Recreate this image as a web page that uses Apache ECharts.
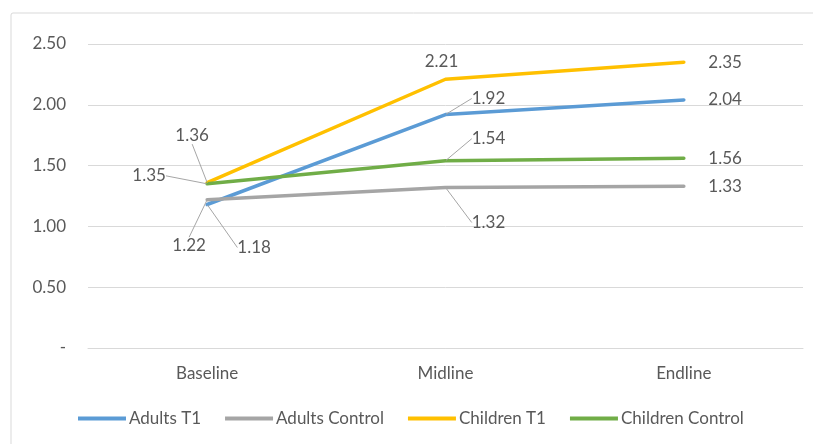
<!DOCTYPE html>
<html>
<head>
<meta charset="utf-8">
<script src="https://cdn.jsdelivr.net/npm/echarts@6/dist/echarts.min.js"></script>
<style>
  html, body { margin: 0; padding: 0; background: #fff; }
  #chart { width: 813px; height: 444px; }
</style>
</head>
<body>
<div id="chart"></div>
<script>
// Survey rounds and mean scores per group
const categories = ['Baseline', 'Midline', 'Endline'];
const adultsT1 = [1.18, 1.92, 2.04];
const adultsControl = [1.22, 1.32, 1.33];
const childrenT1 = [1.36, 2.21, 2.35];
const childrenControl = [1.35, 1.54, 1.56];
const yTicks = [0, 0.5, 1, 1.5, 2, 2.5];

// Label offsets (pixels from the point); null = plain label to the right
const labelOffsets = [
  [[47, 43], [43, -16], null],
  [[-18, 46], [43, 35], null],
  [[-15, -47], [-4, -18], null],
  [[-58, -8], [43, -22], null]
];
// Whether each moved label gets a leader line
const leaderLines = [
  [true, true, false],
  [true, true, false],
  [true, false, false],
  [true, true, false]
];

const FONT = 'Lato';
const TEXT = '#595959';

function makeSeries(name, values, color, idx) {
  return {
    name: name,
    type: 'line',
    data: values.map(function (v, i) {
      const item = { value: v };
      if (labelOffsets[idx][i] === null) {
        item.label = { position: 'right', distance: 24 };
      }
      if (!leaderLines[idx][i]) {
        item.labelLine = { show: false };
      }
      return item;
    }),
    symbol: 'circle',
    symbolSize: 1,
    showSymbol: true,
    lineStyle: { color: color, width: 3.5, cap: 'round', join: 'round' },
    itemStyle: { color: color },
    label: {
      show: true,
      position: 'inside',
      formatter: function (p) { return p.value.toFixed(2); },
      color: TEXT,
      fontFamily: FONT,
      fontSize: 17
    },
    labelLine: {
      show: true,
      lineStyle: { color: '#a6a6a6', width: 1 }
    },
    labelLayout: function (p) {
      const off = labelOffsets[idx][p.dataIndex];
      if (!off) return {};
      return { dx: off[0], dy: off[1] };
    },
    emphasis: { disabled: true },
    z: 2
  };
}

const chart = echarts.init(document.getElementById('chart'), null, { renderer: 'canvas' });
chart.setOption({
  animation: false,
  backgroundColor: '#ffffff',
  graphic: [{
    type: 'rect',
    shape: { x: 11, y: 13, width: 900, height: 600, r: 2 },
    style: { fill: 'none', stroke: '#d9d9d9', lineWidth: 1 },
    silent: true,
    z: -1
  }],
  grid: { left: 88, right: 10, top: 44, bottom: 96, containLabel: false },
  xAxis: {
    type: 'category',
    data: categories,
    boundaryGap: true,
    axisLine: { show: true, lineStyle: { color: '#d9d9d9', width: 1 } },
    axisTick: { show: false },
    axisLabel: { color: TEXT, fontFamily: FONT, fontSize: 17, margin: 17 },
    splitLine: { show: false }
  },
  yAxis: {
    type: 'value',
    min: yTicks[0],
    max: yTicks[yTicks.length - 1],
    interval: 0.5,
    axisLine: { show: false },
    axisTick: { show: false },
    axisLabel: {
      color: TEXT, fontFamily: FONT, fontSize: 17, margin: 22,
      formatter: function (v) { return v === 0 ? '-' : v.toFixed(2); }
    },
    splitLine: { lineStyle: { color: '#d9d9d9', width: 1 } }
  },
  legend: {
    bottom: 12,
    left: 73,
    icon: 'rect',
    itemWidth: 48,
    itemHeight: 4,
    itemGap: 24,
    textStyle: { color: TEXT, fontFamily: FONT, fontSize: 17, padding: [0, 0, 0, -2] },
    data: ['Adults T1', 'Adults Control', 'Children T1', 'Children Control']
  },
  series: [
    makeSeries('Adults T1', adultsT1, '#5B9BD5', 0),
    makeSeries('Adults Control', adultsControl, '#A5A5A5', 1),
    makeSeries('Children T1', childrenT1, '#FFC000', 2),
    makeSeries('Children Control', childrenControl, '#70AD47', 3)
  ]
});
</script>
</body>
</html>
